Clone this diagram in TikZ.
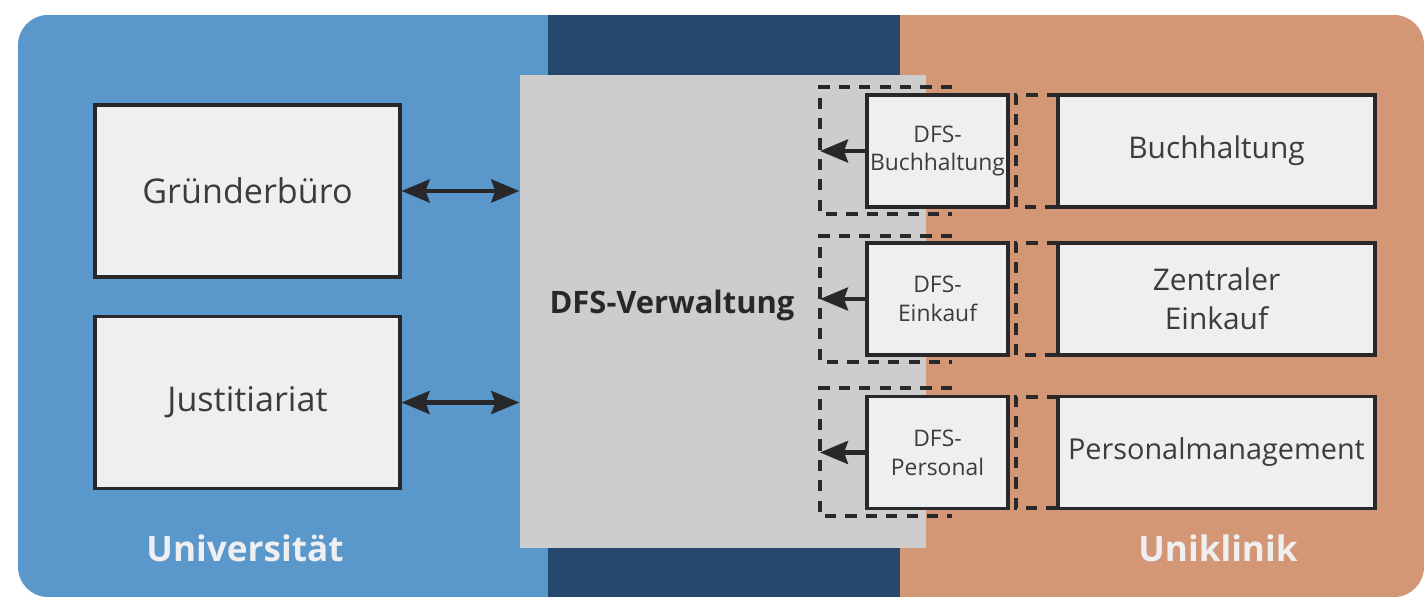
\documentclass[tikz,border=0pt]{standalone}
\usepackage{fontspec}
\setmainfont{Open Sans}
\usetikzlibrary{arrows.meta}
\definecolor{skyblue}{RGB}{90, 151, 203}
\definecolor{navyblue}{RGB}{39, 72, 110}
\definecolor{terracotta}{RGB}{211, 151, 118}
\definecolor{ashgray}{RGB}{205, 205, 205}
\definecolor{paper}{RGB}{239, 239, 241}
\definecolor{ink}{RGB}{40, 40, 42}
\definecolor{graytext}{RGB}{60, 60, 62}

\tikzset{
    unitbox/.style   = {draw=ink, line width=0.9pt, fill=paper, text=graytext, align=center, inner sep=0pt},
    bigbox/.style    = {unitbox, minimum width=3.05cm, minimum height=1.72cm, font=\fontsize{9.7}{12}\selectfont},
    dfsbox/.style    = {unitbox, minimum width=1.41cm, minimum height=1.12cm, font=\fontsize{6.5}{8.2}\selectfont},
    clinicbox/.style = {unitbox, minimum width=3.17cm, minimum height=1.12cm, font=\fontsize{8.5}{11}\selectfont},
    dashline/.style  = {draw=ink, line width=1.1pt, dash pattern=on 3.2pt off 2.6pt},
    flow/.style      = {draw=ink, line width=1.2pt, -{Stealth[length=2.8mm, width=2.3mm, inset=0.4mm]}},
    twoway/.style    = {flow, {Stealth[length=2.8mm, width=2.3mm, inset=0.4mm]}-{Stealth[length=2.8mm, width=2.3mm, inset=0.4mm]}},
    sidelabel/.style = {text=paper, font=\fontsize{10}{12}\selectfont\bfseries}
}

\begin{document}
\begin{tikzpicture}
    \useasboundingbox (0,0) rectangle (14.26,5.98);

    % three coloured bands
    \begin{scope}
        \clip[rounded corners=0.3cm] (0.18,0.01) rectangle (14.24,5.83);
        \fill[skyblue]    (0.18,0.01) rectangle ( 5.48,5.83);
        \fill[navyblue]   (5.48,0.01) rectangle ( 9.00,5.83);
        \fill[terracotta] (9.00,0.01) rectangle (14.24,5.83);
    \end{scope}

    % shared administration
    \node[fill=ashgray, minimum width=4.06cm, minimum height=4.73cm, inner sep=0pt] (verw) at (7.23,2.865) {};
    \node[text=ink, font=\fontsize{8.8}{11}\selectfont\bfseries] (verwlabel) at (6.72,2.93) {DFS-Verwaltung};

    % university side
    \node[bigbox] (gruender) at (2.475,4.070) {Gründerbüro};
    \node[bigbox] (justiz)   at (2.475,1.955) {Justitiariat};
    \draw[twoway] (gruender.east) -- (gruender.east -| verw.west);
    \draw[twoway] (justiz.east)   -- (justiz.east -| verw.west);

    % dashed brackets
    \draw[dashline] (9.52,5.11) -- (8.20,5.11) -- (8.20,3.84) -- (9.52,3.84);
    \draw[dashline] (9.52,3.62) -- (8.20,3.62) -- (8.20,2.36) -- (9.52,2.36);
    \draw[dashline] (9.52,2.10) -- (8.20,2.10) -- (8.20,0.82) -- (9.52,0.82);
    \draw[dashline] (10.58,5.03) -- (10.16,5.03) -- (10.16,3.91) -- (10.58,3.91);
    \draw[dashline] (10.58,3.55) -- (10.16,3.55) -- (10.16,2.43) -- (10.58,2.43);
    \draw[dashline] (10.58,2.01) -- (10.16,2.01) -- (10.16,0.90) -- (10.58,0.90);

    % clinic side
    \node[dfsbox]    (dfsbuch)  at ( 9.375,4.470) {DFS-\\Buchhaltung};
    \node[dfsbox]    (dfskauf)  at ( 9.375,2.990) {DFS-\\Einkauf};
    \node[dfsbox]    (dfspers)  at ( 9.375,1.455) {DFS-\\Personal};
    \node[clinicbox] (buch)     at (12.165,4.470) {Buchhaltung};
    \node[clinicbox] (einkauf)  at (12.165,2.990) {Zentraler\\Einkauf};
    \node[clinicbox, font=\fontsize{8.2}{10}\selectfont] (personal) at (12.165,1.455) {Personalmanagement};

    \coordinate (tipbuch) at (8.20,4.470);
    \coordinate (tipkauf) at (8.20,2.990);
    \coordinate (tippers) at (8.20,1.455);
    \draw[flow] (dfsbuch.west) -- (tipbuch);
    \draw[flow] (dfskauf.west) -- (tipkauf);
    \draw[flow] (dfspers.west) -- (tippers);

    \node[sidelabel] (uni)    at ( 2.45,0.50) {Universität};
    \node[sidelabel] (klinik) at (12.18,0.50) {Uniklinik};
\end{tikzpicture}
\end{document}
